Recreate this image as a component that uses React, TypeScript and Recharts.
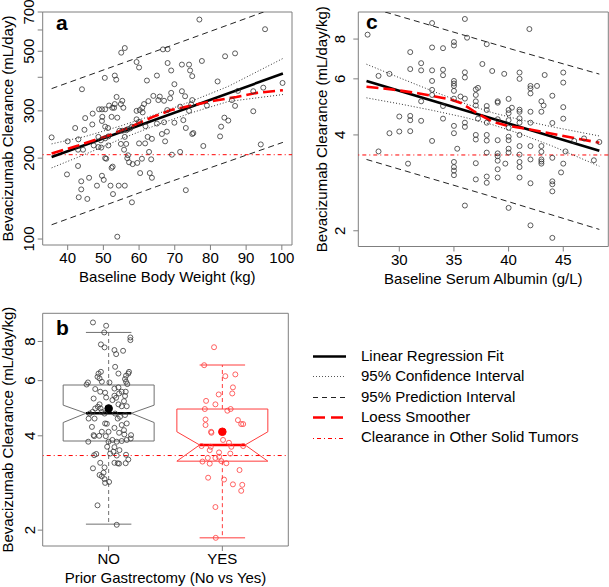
import React from 'react';
import { ComposedChart, Scatter, Line, XAxis, YAxis, ReferenceLine, ReferenceArea } from 'recharts';

const FONT = '"Liberation Sans", Arial, Helvetica, sans-serif';
const FRAME = '#7f7f7f';
const INK = '#000000';
const POINT = '#333333';
const RED = '#ff0000';
const LIGHT_RED = '#ff3c3c';

type Pair = [number, number];
type XY = { x: number; y: number };
const xy = (rows: Pair[]): XY[] => rows.map(([x, y]) => ({ x, y }));

// ---------------- Panel a: clearance vs body weight ----------------
const weightTicks = [40, 50, 60, 70, 80, 90, 100];
const weightClearanceTicks = [100, 200, 300, 400, 500, 600, 700];
const weightClearanceTickLabels = ['100', '200', '300', '', '500', '', '700'];
const weightDomain: Pair = [33.0, 102.85];
const weightClearanceDomain: Pair = [95, 700];
const weightOtherTumors = 206;

const weightPoints: Pair[] = [
  [35.5, 239], [40, 231], [43, 235], [42.1, 259], [44, 361], [44.9, 282], [46.9, 267], [44.7, 255],
  [48.6, 240], [49.3, 233], [50.5, 237], [51.4, 241], [47.3, 223], [48.6, 220], [49.4, 219], [51.4, 223],
  [42.9, 215], [44.3, 215], [42.9, 187], [50.5, 200], [50.8, 199], [52.6, 186], [52.3, 184], [54.9, 226],
  [55.8, 215], [56.4, 226], [56.9, 205], [56.7, 200], [57.2, 193], [58.2, 190], [59.5, 192], [60, 227],
  [60.8, 199], [60.3, 176], [61.7, 227], [62.8, 211], [63.4, 198], [63, 176], [63.6, 169], [62.4, 240],
  [63.6, 236], [39.8, 174], [43.8, 164], [46, 169], [43.8, 153], [43.1, 143], [45.5, 141], [48.2, 158],
  [49.6, 172], [50.1, 166], [52, 158], [52.7, 147], [54.3, 158], [56, 158], [58, 137], [53.9, 102],
  [55, 494], [56, 514], [59.3, 456], [60, 435], [50.4, 398], [53.2, 406], [53.6, 392], [62.2, 389],
  [65, 406], [55.3, 327], [55.6, 308], [54.9, 318], [53.7, 338], [53.2, 318], [53, 308], [51.6, 314],
  [52.5, 308], [50.5, 304], [49.6, 304], [48.8, 304], [47, 293], [49.7, 285], [49.6, 275], [52.3, 285],
  [53.9, 283], [50.5, 262], [51.3, 259], [54.5, 253], [55.3, 253], [56, 240], [56.4, 254], [56.8, 256],
  [57.5, 258], [58, 262], [64, 341], [65.4, 329], [62.6, 326], [61.4, 318], [60.9, 308], [61, 296],
  [60.2, 302], [59.3, 300], [59.3, 279], [60, 273], [61.8, 263], [65, 269], [65.8, 339], [67, 327],
  [67.9, 302], [67, 272], [67.8, 251], [66.4, 246], [67.3, 231],
  [76.9, 656], [95.3, 604], [68, 509], [66.7, 508], [68, 452], [69, 424], [72, 446], [74, 446],
  [74.3, 424], [74.9, 404], [77.6, 460], [84.1, 479], [86.9, 491], [69.9, 377], [69, 350], [68.7, 334],
  [72, 355], [72.9, 340], [74.9, 329], [74.6, 317], [74, 300], [72.4, 277], [73.1, 259], [71.5, 311],
  [82, 386], [79, 314], [86, 329], [86.9, 313], [87.7, 356], [83.9, 283], [85, 276], [83, 262],
  [82.7, 241], [92, 355], [92, 299], [94.8, 366], [100.2, 381], [94.1, 225], [78, 222], [74.9, 246],
  [75.2, 248], [71.5, 211], [69.2, 206], [73.1, 152], [69.9, 271],
];
const weightFit: Pair[] = [[35.5, 202], [100.3, 413]];
const weightCiUpper: Pair[] = [[35.5, 226], [45, 241], [55, 264], [65, 292], [75, 327], [85, 370], [100.3, 470]];
const weightCiLower: Pair[] = [[35.5, 184], [45, 207], [55, 236], [65, 266], [75, 296], [85, 325], [100.3, 345]];
const weightPiUpper: Pair[] = [[35.5, 363], [65, 502], [94.9, 700]];
const weightPiLower: Pair[] = [[35.5, 113], [65, 157], [100.3, 229]];
const weightLoess: Pair[] = [
  [35.5, 208], [43, 223], [51.8, 244], [58, 263], [63.9, 285], [69, 302], [75.1, 315], [81, 327],
  [87.3, 338], [93, 350], [100.3, 358],
];

// ---------------- Panel c: clearance vs serum albumin ----------------
const albuminTicks = [30, 35, 40, 45];
const albuminClearanceTicks = [2, 4, 6, 8];
const albuminDomain: Pair = [26.25, 49.12];
const albuminClearanceDomain: Pair = [1.785, 9.73];
const kgOtherTumors = 3.46;

const albuminPoints: Pair[] = [
  [27.1, 8.26], [28.1, 6.13], [28.1, 3.55], [29.1, 6.22], [29.1, 4.05], [30, 4.57], [30, 4.10], [30.8, 3.25],
  [31, 7.28], [31, 6.44], [31, 4.59], [31, 4.45], [31, 4.11], [32, 6.72], [32, 6.38], [32, 5.10], [32, 4.43],
  [33, 8.98], [33, 7.53], [33, 6.38], [33, 5.91], [33, 5.54], [33, 5.34], [33, 3.83], [34, 7.49], [34, 6.41],
  [34, 6.16], [34, 4.93], [34, 4.50], [35, 7.83], [35, 7.64], [35, 5.91], [35, 5.80], [35, 5.70], [35, 5.50],
  [35, 5.20], [35, 4.27], [35, 4.05], [35, 3.29], [35, 3.17], [35, 3.09], [35, 2.99], [35.3, 3.62], [35.6, 5.28],
  [36, 9.25], [36, 6.29], [36, 6.06], [36, 5.20], [36, 4.37], [36, 4.24], [36, 2.40], [36.2, 8.08], [37, 5.56],
  [37, 5.34], [37, 5.10], [37, 4.95], [37, 4.00], [37, 3.87], [37, 3.26], [37, 2.90], [37.2, 5.62], [37.2, 4.50],
  [37.6, 6.68], [38, 7.71], [38, 4.93], [38, 4.79], [38, 4.37], [38, 4.00], [38, 3.84], [38, 3.52], [38, 2.96],
  [38, 2.83], [38.5, 6.35], [39, 5.10], [39, 5.05], [39, 4.48], [39, 3.85], [39, 3.50], [39, 3.43], [39, 3.32],
  [39, 3.12], [39, 2.94], [39.6, 6.22], [39.7, 3.25], [40, 5.19], [40, 4.79], [40, 4.68], [40, 4.45], [40, 4.21],
  [40, 3.95], [40, 3.85], [40, 3.62], [40, 3.52], [40, 2.36], [40.3, 4.87], [41, 6.28], [41, 6.00], [41, 4.80],
  [41, 4.73], [41, 4.51], [41, 4.37], [41, 4.00], [41, 3.69], [41, 3.47], [41, 3.29], [41, 3.17], [41, 2.94],
  [41.9, 8.60], [42, 5.70], [42, 5.60], [42, 5.40], [42, 4.73], [42, 4.37], [42, 3.69], [42, 3.35], [42, 2.82],
  [42, 2.08], [42.6, 5.70], [43, 5.10], [43, 4.73], [43, 3.69], [43, 3.54], [43, 3.35], [43, 3.30], [43, 3.25],
  [43.2, 4.95], [43.3, 6.17], [44, 5.31], [44, 4.36], [44, 3.39], [44, 2.86], [44, 2.80], [44, 2.66], [44, 1.90],
  [44.8, 3.05], [45, 6.28], [45, 5.84], [45, 4.89], [45, 4.50], [45, 3.25], [45.2, 3.55], [46, 3.83], [46.9, 3.90],
  [47.8, 3.33], [48.3, 3.80],
];
const albuminFit: Pair[] = [[27, 5.91], [48.3, 3.57]];
const albuminCiUpper: Pair[] = [[27, 6.67], [30, 6.05], [33, 5.50], [36, 5.02], [38.5, 4.70], [41, 4.47], [44, 4.24], [48.3, 3.97]];
const albuminCiLower: Pair[] = [[27, 5.23], [30, 5.01], [33, 4.78], [36, 4.54], [38.5, 4.31], [41, 4.04], [44, 3.69], [48.3, 3.19]];
const albuminPiUpper: Pair[] = [[28.7, 9.73], [40.55, 7.39], [48.3, 6.21]];
const albuminPiLower: Pair[] = [[27, 3.35], [38, 2.59], [48.3, 2.02]];
const albuminLoess: Pair[] = [
  [27, 5.67], [29.3, 5.56], [31.7, 5.41], [34.7, 5.17], [35.7, 5.03], [36.9, 4.73], [38.4, 4.42], [39.9, 4.27],
  [41.5, 4.19], [44.5, 4.0], [48.3, 3.78],
];

// ---------------- Panel b: prior gastrectomy ----------------
const gastrectomyCategories = ['NO', 'YES'];
const gastrectomyTicks = [1, 2];
const gastrectomyDomain: Pair = [0.42, 2.58];
const gastrectomyClearanceDomain: Pair = [1.78, 9.84];
// box stats: [lower whisker, Q1, notch low, median, notch high, Q3, upper whisker, mean]
const noStats = [2.09, 3.85, 4.41, 4.72, 5.01, 5.81, 8.55, 4.89];
const yesStats = [1.89, 3.32, 3.32, 3.74, 4.12, 4.87, 6.73, 4.12];

const noPoints: Pair[] = [
  [0.862, 9.20], [0.978, 8.98], [0.961, 8.55], [1.191, 8.24], [1.191, 8.08], [0.932, 7.83], [0.964, 7.66],
  [1.051, 7.51], [1.127, 7.47], [1.066, 7.29], [1.057, 6.64], [1.086, 6.32], [0.932, 6.40], [0.911, 6.32],
  [1.179, 6.40], [1.173, 6.32], [1.153, 6.22], [0.902, 6.17], [0.920, 6.10], [1.144, 6.07], [0.940, 5.95],
  [0.818, 5.92], [1.007, 5.92], [0.806, 5.83], [1.153, 5.95], [1.164, 5.85], [0.882, 5.64], [1.051, 5.66],
  [1.086, 5.71], [1.115, 5.53], [1.150, 5.53], [0.926, 5.53], [0.969, 5.49], [1.092, 5.46], [1.144, 5.36],
  [1.051, 5.37], [1.066, 5.29], [0.978, 5.30], [0.868, 5.26], [1.033, 5.20], [1.135, 5.16], [0.920, 5.04],
  [0.905, 4.95], [0.929, 4.89], [0.882, 4.89], [1.086, 5.04], [1.115, 4.97], [1.159, 4.97], [0.940, 4.77],
  [0.859, 4.77], [0.833, 4.71], [0.964, 4.71], [1.057, 4.71], [1.100, 4.60], [1.144, 4.66], [1.080, 4.54],
  [0.824, 4.54], [0.876, 4.54], [0.969, 4.38], [0.984, 4.37], [0.853, 4.27], [1.051, 4.24], [1.115, 4.33],
  [1.159, 4.38], [1.135, 4.17], [0.940, 4.12], [0.999, 4.12], [1.092, 4.09], [1.197, 4.02], [1.194, 3.92],
  [1.138, 4.04], [0.868, 4.02], [0.917, 4.00], [0.873, 3.99], [0.975, 3.99], [1.033, 3.88], [1.071, 3.83],
  [1.115, 3.85], [1.159, 3.88], [0.821, 3.83], [0.999, 3.83], [0.987, 3.69], [1.051, 3.68], [1.095, 3.60],
  [1.042, 3.56], [1.013, 3.51], [0.891, 3.50], [0.873, 3.47], [1.071, 3.46], [1.153, 3.48], [1.173, 3.36],
  [1.150, 3.27], [1.080, 3.27], [1.051, 3.28], [1.092, 3.26], [0.926, 3.28], [0.964, 3.17], [0.862, 3.15],
  [0.955, 3.05], [0.920, 3.00], [0.940, 2.97], [0.964, 2.91], [1.004, 2.85], [0.969, 2.83], [0.902, 2.40],
  [1.071, 2.08],
];
const yesPoints: Pair[] = [
  [1.927, 7.67], [1.840, 6.72], [1.942, 1.89], [2.026, 6.20], [2.114, 6.28], [2.093, 5.71], [2.087, 5.46],
  [1.968, 5.42], [1.857, 5.17], [1.939, 5.04], [1.846, 4.87], [2.044, 4.81], [2.073, 4.87], [1.852, 4.51],
  [1.852, 4.33], [2.137, 4.49], [2.166, 4.36], [2.183, 4.36], [1.901, 4.12], [1.904, 4.09], [2.006, 3.88],
  [2.058, 3.80], [1.817, 3.71], [1.898, 3.69], [2.079, 3.69], [2.183, 3.71], [1.889, 3.60], [1.971, 3.54],
  [1.872, 3.40], [1.939, 3.40], [2.070, 3.51], [1.971, 3.43], [1.825, 3.31], [1.991, 3.32], [1.889, 3.26],
  [2.035, 3.27], [2.151, 3.11], [1.875, 2.94], [2.015, 2.90], [2.093, 2.80], [2.175, 2.79], [2.166, 2.67],
  [1.939, 2.37],
];

// ---------------- Legend ----------------
const legendLabels = [
  'Linear Regression Fit',
  '95% Confidence Interval',
  '95% Prediction Interval',
  'Loess Smoother',
  'Clearance in Other Solid Tumors',
];
const legendStyles = [
  { stroke: INK, width: 2.6, dash: undefined as string | undefined },
  { stroke: '#555555', width: 1, dash: '1 2' },
  { stroke: '#222222', width: 1, dash: '5 4' },
  { stroke: RED, width: 2.6, dash: '12 6' },
  { stroke: RED, width: 1, dash: '1 3 4 3' },
];

// ---------------- helpers ----------------
const ring = (color: string, r = 2.5) => (p: any) =>
  p.cx == null ? <g /> : <circle cx={p.cx} cy={p.cy} r={r} fill="none" stroke={color} strokeWidth={0.8} />;
const dotShape = (color: string, r: number) => (p: any) =>
  p.cx == null ? <g /> : <circle cx={p.cx} cy={p.cy} r={r} fill={color} stroke={color} />;

const yTick = (baseX: number, fmt: (v: number) => string) => (p: any) => {
  const y = p.y;
  return (
    <text x={baseX} y={y} transform={`rotate(-90 ${baseX} ${y})`} textAnchor="middle"
      fontFamily={FONT} fontSize={15} fill={INK}>{fmt(p.payload.value)}</text>
  );
};
const xTick = (baseY: number, fmt: (v: number) => string) => (p: any) => (
  <text x={p.x} y={baseY} textAnchor="middle" fontFamily={FONT} fontSize={15} fill={INK}>{fmt(p.payload.value)}</text>
);
const xTitle = (text: string, cx: number, baseY: number) => ({
  content: () => <text x={cx} y={baseY} textAnchor="middle" fontFamily={FONT} fontSize={15} fill={INK}>{text}</text>,
});
const yTitle = (text: string, baseX: number, cy: number) => ({
  content: () => (
    <text x={baseX} y={cy} transform={`rotate(-90 ${baseX} ${cy})`} textAnchor="middle"
      fontFamily={FONT} fontSize={15} fill={INK}>{text}</text>
  ),
});

const seriesLine = (key: string, data: Pair[], stroke: string, width: number, dash?: string) => (
  <Line key={key} data={xy(data)} dataKey="y" type="linear" stroke={stroke} strokeWidth={width}
    strokeDasharray={dash} dot={false} activeDot={false} isAnimationActive={false} legendType="none" />
);

type RegProps = {
  left: number; top: number; width: number; height: number;
  plotLeft: number; plotRight: number; plotTop: number; plotBottom: number;
  xDomain: Pair; yDomain: Pair; xTicks: number[]; yTicks: number[];
  yFmt: (v: number) => string;
  yTickX: number; xTickY: number; yTitleX: number; xTitleY: number;
  xLabel: string; yLabel: string; refY: number;
  points: Pair[]; fit: Pair[]; ciU: Pair[]; ciL: Pair[]; piU: Pair[]; piL: Pair[]; loess: Pair[];
};

function RegressionPanel(p: RegProps) {
  return (
    <div style={{ position: 'absolute', left: p.left, top: p.top, width: p.width, height: p.height }}>
      <ComposedChart width={p.width} height={p.height}
        margin={{ top: p.plotTop, right: p.width - p.plotRight, bottom: 0, left: 0 }}>
        <XAxis type="number" dataKey="x" domain={p.xDomain} allowDataOverflow ticks={p.xTicks} interval={0}
          tick={xTick(p.xTickY, (v) => String(v))} tickSize={5} tickLine={{ stroke: FRAME }} axisLine={false}
          height={p.height - p.plotBottom}
          label={xTitle(p.xLabel, (p.plotLeft + p.plotRight) / 2, p.xTitleY)} />
        <YAxis type="number" dataKey="y" scale="log" domain={p.yDomain} allowDataOverflow ticks={p.yTicks}
          interval={0} tick={yTick(p.yTickX, p.yFmt)} tickSize={5} tickLine={{ stroke: FRAME }} axisLine={false}
          width={p.plotLeft} label={yTitle(p.yLabel, p.yTitleX, (p.plotTop + p.plotBottom) / 2)} />
        <ReferenceArea x1={p.xDomain[0]} x2={p.xDomain[1]} y1={p.yDomain[0]} y2={p.yDomain[1]}
          fill="none" stroke={FRAME} strokeWidth={1} ifOverflow="visible" />
        <Scatter data={xy(p.points)} shape={ring(POINT)} isAnimationActive={false} legendType="none" />
        <ReferenceLine y={p.refY} stroke={RED} strokeWidth={1} strokeDasharray="1 3 4 3" />
        {seriesLine('piU', p.piU, '#222222', 1, '6 4')}
        {seriesLine('piL', p.piL, '#222222', 1, '6 4')}
        {seriesLine('ciU', p.ciU, '#333333', 1, '1 2')}
        {seriesLine('ciL', p.ciL, '#333333', 1, '1 2')}
        {seriesLine('fit', p.fit, INK, 2.6)}
        {seriesLine('loess', p.loess, RED, 2.6, '12 5')}
      </ComposedChart>
    </div>
  );
}

const boxOutline = (c: number, s: number[]): Pair[] => [
  [c - 0.4, s[1]], [c + 0.4, s[1]], [c + 0.4, s[2]], [c + 0.2, s[3]], [c + 0.4, s[4]], [c + 0.4, s[5]],
  [c - 0.4, s[5]], [c - 0.4, s[4]], [c - 0.2, s[3]], [c - 0.4, s[2]], [c - 0.4, s[1]],
];

function BoxPanel() {
  const W = 305, H = 297;
  const plotLeft = 42.7, plotRight = 288.3, plotTop = 23.3, plotBottom = 256;
  const groups = [
    { c: 1, s: noStats, box: '#707070', med: INK },
    { c: 2, s: yesStats, box: LIGHT_RED, med: RED },
  ];
  return (
    <div style={{ position: 'absolute', left: 0, top: 290, width: W, height: H }}>
      <ComposedChart width={W} height={H} margin={{ top: plotTop, right: W - plotRight, bottom: 0, left: 0 }}>
        <XAxis type="number" dataKey="x" domain={gastrectomyDomain} allowDataOverflow ticks={gastrectomyTicks}
          interval={0} tick={xTick(274, (v) => gastrectomyCategories[v - 1])} tickSize={5}
          tickLine={{ stroke: FRAME }} axisLine={false} height={H - plotBottom}
          label={xTitle('Prior Gastrectomy (No vs Yes)', (plotLeft + plotRight) / 2, 293.3)} />
        <YAxis type="number" dataKey="y" scale="log" domain={gastrectomyClearanceDomain} allowDataOverflow
          ticks={albuminClearanceTicks} interval={0} tick={yTick(35, (v) => String(v))} tickSize={5}
          tickLine={{ stroke: FRAME }} axisLine={false} width={plotLeft}
          label={yTitle('Bevacizumab Clearance (mL/day/kg)', 13, (plotTop + plotBottom) / 2)} />
        <ReferenceArea x1={gastrectomyDomain[0]} x2={gastrectomyDomain[1]} y1={gastrectomyClearanceDomain[0]}
          y2={gastrectomyClearanceDomain[1]} fill="none" stroke={FRAME} strokeWidth={1} ifOverflow="visible" />
        {groups.map((g) => [
          seriesLine(`wu${g.c}`, [[g.c, g.s[5]], [g.c, g.s[6]]], g.box, 1, '4 3'),
          seriesLine(`wl${g.c}`, [[g.c, g.s[1]], [g.c, g.s[0]]], g.box, 1, '4 3'),
          seriesLine(`cu${g.c}`, [[g.c - 0.2, g.s[6]], [g.c + 0.2, g.s[6]]], g.box, 1),
          seriesLine(`cl${g.c}`, [[g.c - 0.2, g.s[0]], [g.c + 0.2, g.s[0]]], g.box, 1),
          seriesLine(`bx${g.c}`, boxOutline(g.c, g.s), g.box, 1),
          seriesLine(`md${g.c}`, [[g.c - 0.2, g.s[3]], [g.c + 0.2, g.s[3]]], g.med, 2.6),
        ])}
        {seriesLine('ref', [[gastrectomyDomain[0], kgOtherTumors], [gastrectomyDomain[1], kgOtherTumors]], RED, 1, '1 3 4 3')}
        <Scatter data={xy(noPoints)} shape={ring('#3a3a3a')} isAnimationActive={false} legendType="none" />
        <Scatter data={xy(yesPoints)} shape={ring(LIGHT_RED)} isAnimationActive={false} legendType="none" />
        <Scatter data={xy([[1, noStats[7]]])} shape={dotShape(INK, 3.8)} isAnimationActive={false} legendType="none" />
        <Scatter data={xy([[2, yesStats[7]]])} shape={dotShape(RED, 3.8)} isAnimationActive={false} legendType="none" />
      </ComposedChart>
    </div>
  );
}

export default function App() {
  const legendX1 = 313, legendX2 = 346, legendTextX = 361;
  const legendBase = [360.7, 381.1, 401.5, 421.9, 442.3];
  return (
    <div style={{ position: 'absolute', left: 0, top: 0, width: 609, height: 587, background: '#ffffff', overflow: 'hidden', fontFamily: FONT }}>
      <RegressionPanel
        left={0} top={0} width={305} height={290}
        plotLeft={42.7} plotRight={292} plotTop={12} plotBottom={245}
        xDomain={weightDomain} yDomain={weightClearanceDomain} xTicks={weightTicks} yTicks={weightClearanceTicks}
        yFmt={(v) => weightClearanceTickLabels[weightClearanceTicks.indexOf(v)] ?? ''}
        yTickX={34} xTickY={263} yTitleX={13} xTitleY={282}
        xLabel="Baseline Body Weight (kg)" yLabel="Bevacizumab Clearance (mL/day)" refY={weightOtherTumors}
        points={weightPoints} fit={weightFit} ciU={weightCiUpper} ciL={weightCiLower}
        piU={weightPiUpper} piL={weightPiLower} loess={weightLoess}
      />
      <RegressionPanel
        left={305} top={0} width={304} height={290}
        plotLeft={53.3} plotRight={303.3} plotTop={12} plotBottom={246.5}
        xDomain={albuminDomain} yDomain={albuminClearanceDomain} xTicks={albuminTicks} yTicks={albuminClearanceTicks}
        yFmt={(v) => String(v)}
        yTickX={40.5} xTickY={264.5} yTitleX={21.5} xTitleY={284}
        xLabel="Baseline Serum Albumin (g/L)" yLabel="Bevacizumab Clearance (mL/day/kg)" refY={kgOtherTumors}
        points={albuminPoints} fit={albuminFit} ciU={albuminCiUpper} ciL={albuminCiLower}
        piU={albuminPiUpper} piL={albuminPiLower} loess={albuminLoess}
      />
      <BoxPanel />
      <svg width={609} height={587} style={{ position: 'absolute', left: 0, top: 0, pointerEvents: 'none' }}>
        <text x={56} y={30} fontFamily={FONT} fontWeight="bold" fontSize={21} fill={INK}>a</text>
        <text x={366} y={29.3} fontFamily={FONT} fontWeight="bold" fontSize={21} fill={INK}>c</text>
        <text x={56} y={335} fontFamily={FONT} fontWeight="bold" fontSize={21} fill={INK}>b</text>
        {legendLabels.map((label, i) => (
          <g key={label}>
            <line x1={legendX1} x2={legendX2} y1={Math.round(legendBase[i] - 4.7) + 0.5} y2={Math.round(legendBase[i] - 4.7) + 0.5}
              stroke={legendStyles[i].stroke} strokeWidth={legendStyles[i].width} strokeDasharray={legendStyles[i].dash} />
            <text x={legendTextX} y={legendBase[i]} fontFamily={FONT} fontSize={15} fill={INK}>{label}</text>
          </g>
        ))}
      </svg>
    </div>
  );
}
